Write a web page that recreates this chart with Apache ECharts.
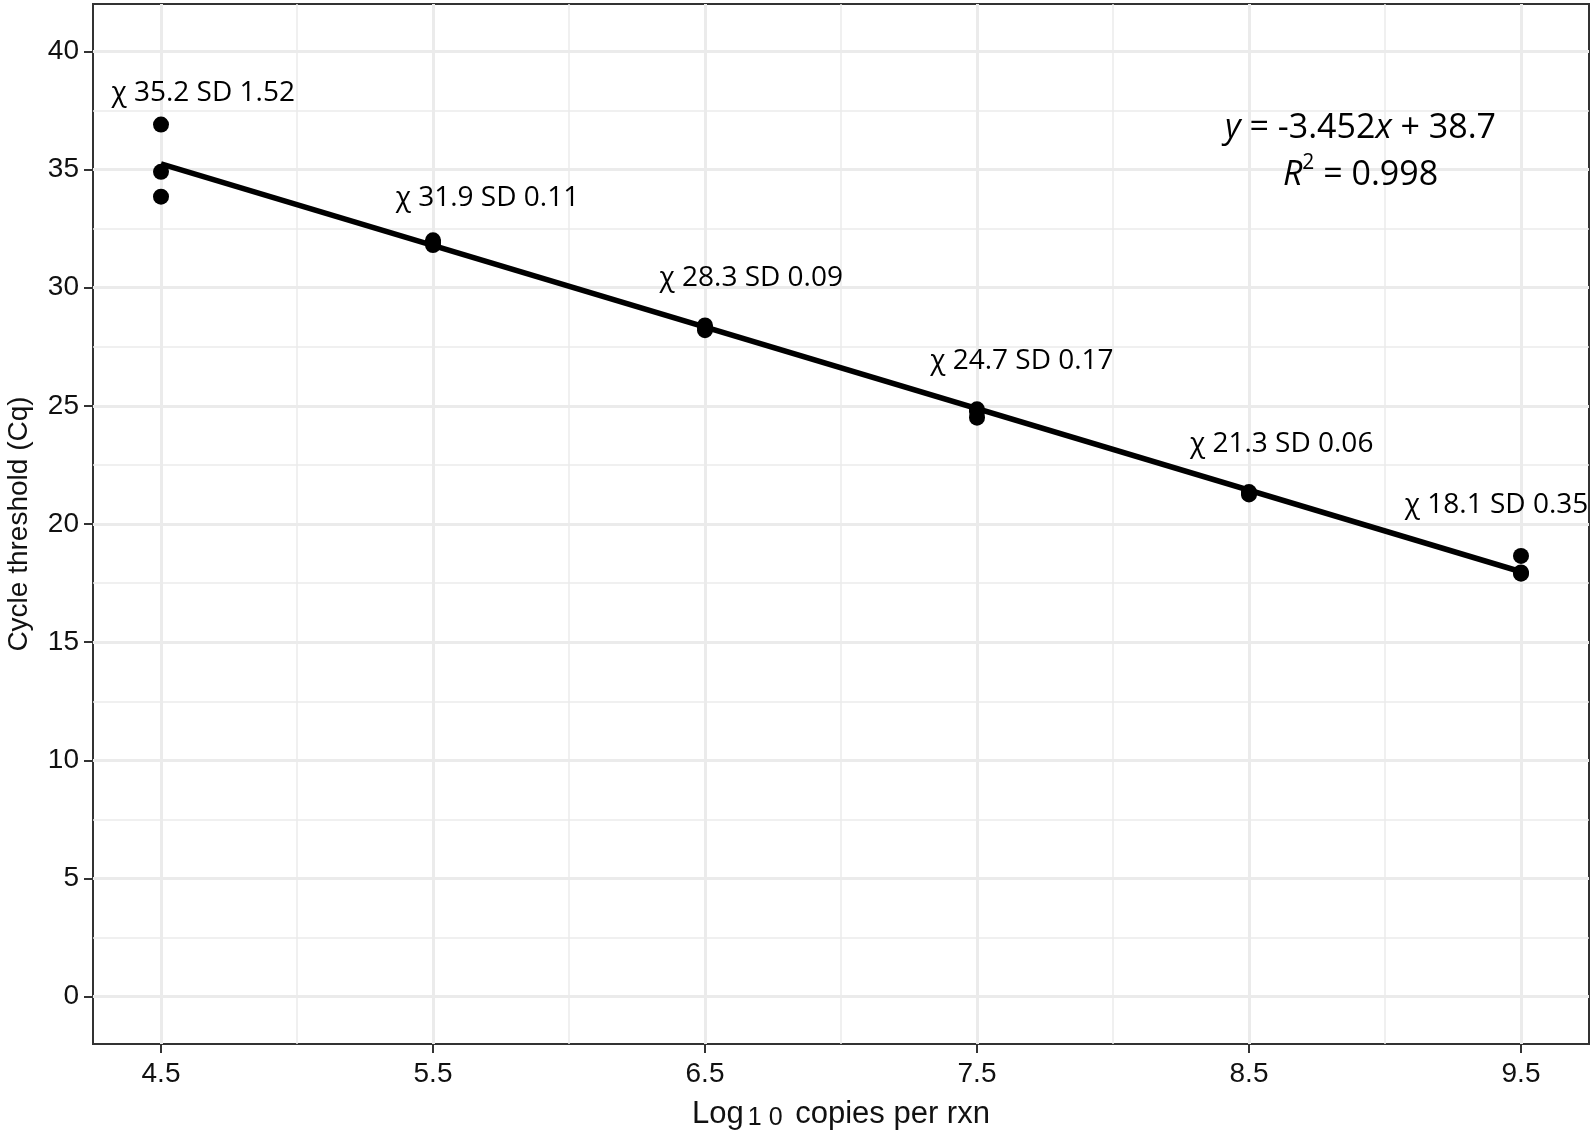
<!DOCTYPE html>
<html>
<head>
<meta charset="utf-8">
<script src="https://cdn.jsdelivr.net/npm/echarts@6/dist/echarts.min.js"></script>
<style>
  html, body { margin: 0; padding: 0; background: #fff; }
  #chart { width: 1594px; height: 1137px; }
</style>
</head>
<body>
<div id="chart"></div>
<script>
// log10 copies per reaction (dilution levels)
const logCopies = [4.5, 5.5, 6.5, 7.5, 8.5, 9.5];
// Cq of the three replicates at each level
const cqReplicates = [
  [36.9, 34.9, 33.85],
  [32.0, 31.8, 31.9],
  [28.4, 28.2, 28.3],
  [24.85, 24.75, 24.5],
  [21.35, 21.25, 21.3],
  [18.65, 17.95, 17.9]
];
const cqMean = ['35.2', '31.9', '28.3', '24.7', '21.3', '18.1'];
const cqSd = ['1.52', '0.11', '0.09', '0.17', '0.06', '0.35'];
// where the mean/SD text sits (data units)
const labelAt = [[4.655, 38.25], [5.7, 33.8], [6.67, 30.4], [7.665, 26.9], [8.62, 23.4], [9.41, 20.8]];

// fitted line ends
const fitX = [4.5, 9.5];
const fitY = [35.24, 17.98];

// ticks / grid
const xTicks = [4.5, 5.5, 6.5, 7.5, 8.5, 9.5];
const xMinor = [5, 6, 7, 8, 9];
const yTicks = [0, 5, 10, 15, 20, 25, 30, 35, 40];
const yMinor = [2.5, 7.5, 12.5, 17.5, 22.5, 27.5, 32.5, 37.5];

let chart = echarts.init(document.getElementById('chart'));

let points = [];
for (let i = 0; i < logCopies.length; i++) {
  for (let j = 0; j < cqReplicates[i].length; j++) {
    points.push([logCopies[i], cqReplicates[i][j]]);
  }
}

let labelData = [];
for (let i = 0; i < labelAt.length; i++) {
  labelData.push({ value: labelAt[i], name: 'χ ' + cqMean[i] + ' SD ' + cqSd[i] });
}

let gridLines = [];
xTicks.forEach(v => gridLines.push({ xAxis: v, lineStyle: { width: 3 } }));
xMinor.forEach(v => gridLines.push({ xAxis: v, lineStyle: { width: 1.5 } }));
yTicks.forEach(v => gridLines.push({ yAxis: v, lineStyle: { width: 3 } }));
yMinor.forEach(v => gridLines.push({ yAxis: v, lineStyle: { width: 1.5 } }));

const axisFont = 'Liberation Sans, Arial, sans-serif';
const noteFont = 'Open Sans, Noto Sans, sans-serif';

chart.setOption({
  animation: false,
  backgroundColor: '#fff',
  grid: {
    left: 93, top: 4, right: 5, bottom: 93,
    outerBoundsMode: 'none',
    containLabel: false,
    show: true,
    borderColor: '#333',
    borderWidth: 2,
    backgroundColor: 'transparent'
  },
  xAxis: {
    type: 'value',
    min: 4.25,
    max: 9.75,
    splitLine: { show: false },
    axisLine: { show: false, onZero: false },
    axisTick: { show: true, customValues: xTicks, length: 9, lineStyle: { color: '#333', width: 2 } },
    axisLabel: { customValues: xTicks, fontSize: 28, fontFamily: axisFont, color: '#111', margin: 16,
      formatter: v => v.toFixed(1) },
    name: 'Log{s|1 0} copies per rxn',
    nameLocation: 'middle',
    nameGap: 54,
    nameTextStyle: {
      fontSize: 31, fontFamily: axisFont, color: '#111',
      rich: { s: { fontSize: 25, fontFamily: axisFont, color: '#111', verticalAlign: 'bottom', padding: [8, 4, 0, 4] } }
    }
  },
  yAxis: {
    type: 'value',
    min: -2,
    max: 42,
    splitLine: { show: false },
    axisLine: { show: false, onZero: false },
    axisTick: { show: true, customValues: yTicks, length: 9, lineStyle: { color: '#333', width: 2 } },
    axisLabel: { customValues: yTicks, fontSize: 28, fontFamily: axisFont, color: '#111', margin: 14 },
    name: 'Cycle threshold (Cq)',
    nameLocation: 'middle',
    nameGap: 60,
    nameTextStyle: { fontSize: 28, fontFamily: axisFont, color: '#111' }
  },
  series: [
    {
      type: 'scatter',
      data: [],
      z: 0,
      silent: true,
      markLine: {
        z: 0,
        silent: true,
        symbol: 'none',
        label: { show: false },
        lineStyle: { color: '#ebebeb', type: 'solid', opacity: 1 },
        data: gridLines
      }
    },
    {
      type: 'line',
      data: fitX.map((x, i) => [x, fitY[i]]),
      showSymbol: false,
      symbol: 'none',
      lineStyle: { color: '#000', width: 5.5, opacity: 1 },
      z: 3
    },
    {
      type: 'scatter',
      data: points,
      symbolSize: 16,
      itemStyle: { color: '#000', borderWidth: 0, opacity: 1 },
      z: 4
    },
    {
      type: 'scatter',
      data: labelData,
      symbolSize: 0,
      silent: true,
      itemStyle: { opacity: 1 },
      label: {
        show: true,
        position: 'inside',
        formatter: p => p.name,
        fontSize: 28,
        fontFamily: noteFont,
        color: '#000',
        opacity: 1
      },
      z: 5
    },
    {
      type: 'scatter',
      data: [[8.91, 35.73]],
      symbolSize: 0,
      silent: true,
      itemStyle: { opacity: 1 },
      label: {
        show: true,
        position: 'inside',
        align: 'center',
        lineHeight: 47,
        fontSize: 34,
        fontFamily: noteFont,
        color: '#000',
        opacity: 1,
        formatter: '{i|y} = -3.452{i|x} + 38.7\n{i|R}{sup|2} = 0.998',
        rich: {
          i: { fontStyle: 'italic', fontSize: 34, fontFamily: noteFont, color: '#000', lineHeight: 47 },
          sup: { fontSize: 21, fontFamily: noteFont, color: '#000', verticalAlign: 'top', lineHeight: 47, padding: [0, 0, 16, 0] }
        }
      },
      z: 5
    }
  ]
});
</script>
</body>
</html>
